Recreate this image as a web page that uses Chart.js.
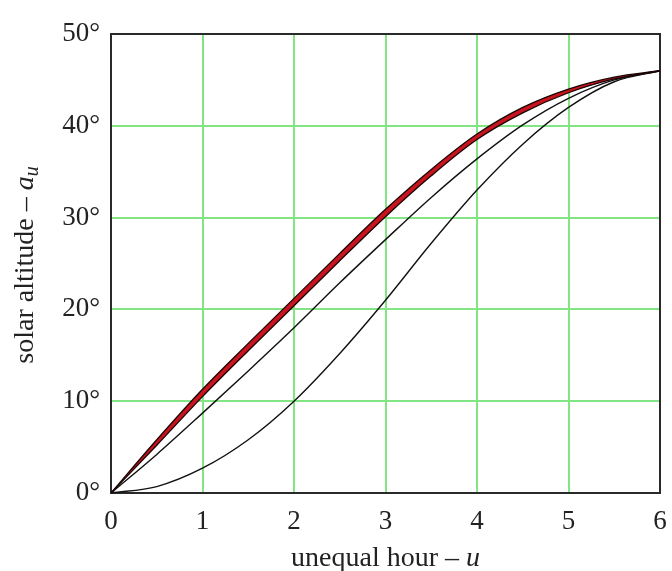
<!DOCTYPE html>
<html><head><meta charset="utf-8">
<script src="https://cdn.jsdelivr.net/npm/chart.js@4/dist/chart.umd.min.js"></script>
<style>html,body{margin:0;padding:0;background:#fff}#wrap{width:672px;height:571px;position:relative}</style>
</head><body><div id="wrap"><canvas id="c"></canvas></div>
<script>
const hours       = [0, 0.5, 1, 1.5, 2, 2.5, 3, 3.5, 4, 4.5, 5, 5.5, 6];
const bandUpper   = [0, 5.8, 11.3, 16.3, 21.2, 26.1, 30.9, 35.25, 39.1, 42.0, 44.0, 45.3, 46];
const bandLower   = [0, 5.2, 10.5, 15.5, 20.4, 25.3, 30.1, 34.55, 38.5, 41.4, 43.6, 45.1, 46];
const middleCurve = [0, 4.2, 8.7, 13.3, 18.0, 22.9, 27.6, 32.2, 36.4, 40.1, 43.0, 45.0, 46];
const lowestCurve = [0, 0.7, 2.7, 5.8, 10.0, 15.2, 21.0, 27.2, 33.0, 38.0, 42.0, 44.8, 46];
const xTickValues = [0, 1, 2, 3, 4, 5, 6];
const yTickValues = [0, 10, 20, 30, 40, 50];
const xTitleParts = ['unequal hour \u2013 ', 'u'];
const yTitleParts = ['solar altitude \u2013 ', 'a', 'u'];

const toPts = arr => hours.map((h, i) => ({x: h, y: arr[i]}));
const SERIF = '"Liberation Serif", "Times New Roman", serif';
const GRID_GREEN = 'rgb(130,228,130)';

const frameAndTitles = {
  id: 'frameAndTitles',
  beforeDatasetsDraw(chart) {
    const {ctx, chartArea: a} = chart;
    ctx.save();
    ctx.strokeStyle = '#2a2a2a';
    ctx.lineWidth = 2;
    ctx.strokeRect(a.left, a.top, a.right - a.left, a.bottom - a.top);
    ctx.restore();
  },
  afterDraw(chart) {
    const {ctx, chartArea: a} = chart;
    ctx.save();
    ctx.fillStyle = '#222';
    ctx.textBaseline = 'alphabetic';
    const fN = '28px ' + SERIF, fI = 'italic 28px ' + SERIF;
    ctx.font = fN; const w1 = ctx.measureText(xTitleParts[0]).width;
    ctx.font = fI; const w2 = ctx.measureText(xTitleParts[1]).width;
    const x0 = (a.left + a.right) / 2 - (w1 + w2) / 2;
    const yb = 566;
    ctx.font = fN; ctx.fillText(xTitleParts[0], x0, yb);
    ctx.font = fI; ctx.fillText(xTitleParts[1], x0 + w1, yb);
    ctx.translate(33, 265);
    ctx.rotate(-Math.PI / 2);
    const fS = 'italic 20px ' + SERIF;
    ctx.font = fN; const v1 = ctx.measureText(yTitleParts[0]).width;
    ctx.font = fI; const v2 = ctx.measureText(yTitleParts[1]).width;
    ctx.font = fS; const v3 = ctx.measureText(yTitleParts[2]).width;
    const s = -(v1 + v2 + v3) / 2;
    ctx.font = fN; ctx.fillText(yTitleParts[0], s, 0);
    ctx.font = fI; ctx.fillText(yTitleParts[1], s + v1, 0);
    ctx.font = fS; ctx.fillText(yTitleParts[2], s + v1 + v2, 5);
    ctx.restore();
  }
};

new Chart(document.getElementById('c'), {
  type: 'line',
  data: {
    datasets: [
      {data: toPts(bandUpper), borderColor: '#1a0505', borderWidth: 1.3, pointRadius: 0, fill: false, cubicInterpolationMode: 'monotone'},
      {data: toPts(bandLower), borderColor: '#1a0505', borderWidth: 1.3, pointRadius: 0, fill: '-1', backgroundColor: '#c8141e', cubicInterpolationMode: 'monotone'},
      {data: toPts(middleCurve), borderColor: '#111', borderWidth: 1.4, pointRadius: 0, fill: false, cubicInterpolationMode: 'monotone'},
      {data: toPts(lowestCurve), borderColor: '#111', borderWidth: 1.4, pointRadius: 0, fill: false, cubicInterpolationMode: 'monotone'}
    ]
  },
  options: {
    responsive: true,
    maintainAspectRatio: false,
    animation: false,
    layout: {padding: {top: 34, right: 12, left: 0, bottom: 0}},
    plugins: {legend: {display: false}, tooltip: {enabled: false}},
    scales: {
      x: {
        type: 'linear', min: 0, max: 6,
        afterBuildTicks: sc => { sc.ticks = xTickValues.map(v => ({value: v})); },
        afterFit: sc => { sc.height = 78; sc.paddingRight = 0; sc.paddingLeft = 0; },
        grid: {color: GRID_GREEN, lineWidth: 2, drawTicks: false},
        border: {display: false},
        ticks: {font: {family: SERIF, size: 27}, color: '#222', padding: 13, maxRotation: 0, callback: v => String(v)}
      },
      y: {
        type: 'linear', min: 0, max: 50,
        afterBuildTicks: sc => { sc.ticks = yTickValues.map(v => ({value: v})); },
        afterFit: sc => { sc.width = 111; sc.paddingTop = 0; sc.paddingBottom = 0; },
        grid: {color: GRID_GREEN, lineWidth: 2, drawTicks: false},
        border: {display: false},
        ticks: {font: {family: SERIF, size: 27}, color: '#222', padding: 11, callback: v => v + '\u00B0'}
      }
    }
  },
  plugins: [frameAndTitles]
});
</script>
</body></html>
